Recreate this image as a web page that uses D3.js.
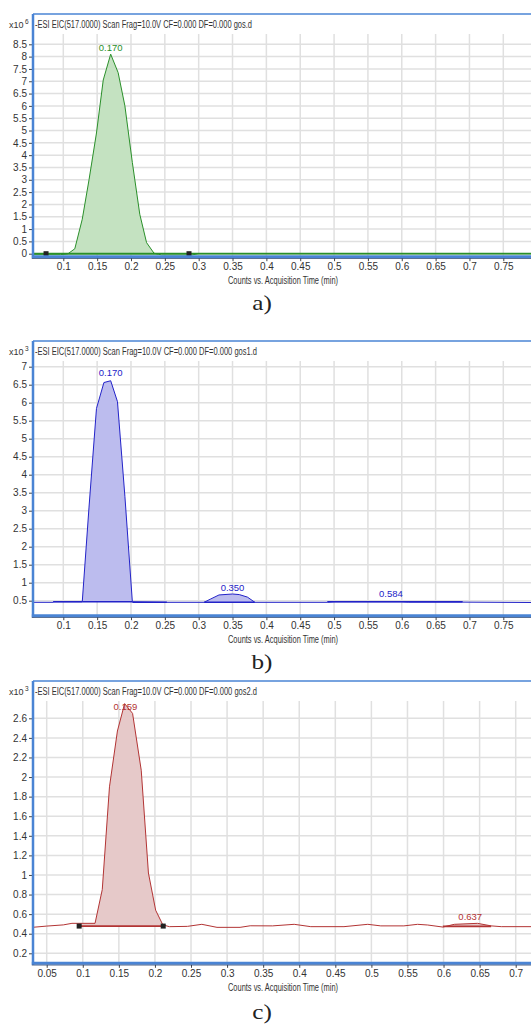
<!DOCTYPE html>
<html lang="en">
<head>
<meta charset="UTF-8">
<title>EIC 517 chromatograms</title>
<script src="https://d3js.org/d3.v7.min.js"></script>
<style>
  body { margin: 0; background: #fff; }
  svg text { font-family: "Liberation Sans Narrow", "Arial Narrow", "Liberation Sans", Arial, sans-serif; fill: #333; }
  .grid line { stroke: #e0e0e0; stroke-width: 1.5; }
  .axis text { font-size: 10px; fill: #333; }
  .axis line { stroke: #444; }
  .cap { font-family: "Liberation Serif", "Times New Roman", serif; fill: #222; }
</style>
</head>
<body>
<script>
// a) gos.d, counts x10^6
var timeA   = [0.055, 0.096, 0.107, 0.117, 0.128, 0.138, 0.149, 0.159, 0.170, 0.181, 0.191, 0.202, 0.213, 0.223, 0.234, 0.245, 0.290, 0.300, 0.792];
var countsA = [-0.04, -0.04, 0.00, 0.20, 1.40, 3.00, 4.90, 7.05, 8.10, 7.35, 6.00, 3.70, 1.60, 0.45, 0.02, -0.05, -0.05, 0.00, 0.00];
var peaksA  = [[0.100, 0.240, 0]];            // start, end, baseline
var marksA  = [[0.0745, 0], [0.2857, 0]];
var labelsA = [[0.170, 8.05, "0.170"]];

// b) gos1.d, counts x10^3
var timeB   = [0.055, 0.085, 0.086, 0.128, 0.138, 0.149, 0.160, 0.170, 0.180, 0.191, 0.202, 0.253, 0.308, 0.318, 0.330, 0.350, 0.360, 0.372, 0.383, 0.490, 0.500, 0.600, 0.610, 0.690, 0.792];
var countsB = [0.455, 0.455, 0.47, 0.47, 3.10, 5.84, 6.56, 6.61, 6.03, 3.40, 0.47, 0.455, 0.455, 0.55, 0.66, 0.686, 0.67, 0.60, 0.455, 0.455, 0.47, 0.47, 0.46, 0.46, 0.45];
var peaksB  = [[0.128, 0.202, 0.47], [0.308, 0.383, 0.455]];
var baseB   = [[0.085, 0.128, 0.47], [0.202, 0.253, 0.455], [0.490, 0.690, 0.47]];
var labelsB = [[0.170, 6.64, "0.170"], [0.350, 0.67, "0.350"], [0.584, 0.48, "0.584"]];

// c) gos2.d, counts x10^3
var timeC   = [0.030, 0.050, 0.073, 0.085, 0.117, 0.127, 0.137, 0.148, 0.158, 0.169, 0.181, 0.191, 0.201, 0.211, 0.220, 0.245, 0.265, 0.286, 0.318, 0.332, 0.363, 0.393, 0.416, 0.462, 0.495, 0.513, 0.545, 0.564, 0.578, 0.599, 0.615, 0.647, 0.666, 0.680, 0.722];
var countsC = [0.465, 0.478, 0.49, 0.506, 0.506, 0.85, 1.90, 2.47, 2.75, 2.65, 2.07, 1.02, 0.64, 0.49, 0.472, 0.475, 0.496, 0.465, 0.465, 0.481, 0.48, 0.496, 0.472, 0.472, 0.496, 0.48, 0.48, 0.496, 0.489, 0.468, 0.496, 0.506, 0.48, 0.472, 0.472];
var peaksC  = [[0.095, 0.2115, 0.478], [0.599, 0.666, 0.475]];
var marksC  = [[0.095, 0.478], [0.2115, 0.478]];
var labelsC = [[0.159, 2.64, "0.159"], [0.637, 0.504, "0.637"]];

// ticks
var xTicksAB = [0.1, 0.15, 0.2, 0.25, 0.3, 0.35, 0.4, 0.45, 0.5, 0.55, 0.6, 0.65, 0.7, 0.75];
var xTicksC  = [0.05, 0.1, 0.15, 0.2, 0.25, 0.3, 0.35, 0.4, 0.45, 0.5, 0.55, 0.6, 0.65, 0.7];
var yTicksA  = [0, 0.5, 1, 1.5, 2, 2.5, 3, 3.5, 4, 4.5, 5, 5.5, 6, 6.5, 7, 7.5, 8, 8.5];
var yTicksB  = [0.5, 1, 1.5, 2, 2.5, 3, 3.5, 4, 4.5, 5, 5.5, 6, 6.5, 7];
var yTicksC  = [0.2, 0.4, 0.6, 0.8, 1, 1.2, 1.4, 1.6, 1.8, 2, 2.2, 2.4, 2.6];

var width = 531, height = 1026, left = 33;
var svg = d3.select("body").append("svg").attr("width", width).attr("height", height);

var panels = [
  {name: "a", title: "-ESI EIC(517.0000) Scan Frag=10.0V CF=0.000 DF=0.000 gos.d", titleW: 217, exp: "6",
   time: timeA, counts: countsA, peaks: peaksA, base: [], marks: marksA, labels: labelsA,
   xTicks: xTicksAB, yTicks: yTicksA, color: "#2a8f2a", fill: "#c4e2c1",
   xDomain: [0.1, 0.75], xRange: [63.3, 503.3], yDomain: [0, 8.5], yRange: [253.7, 44.3],
   top: 14, bottom: 256.7, cap: "a)", capY: 309.5},
  {name: "b", title: "-ESI EIC(517.0000) Scan Frag=10.0V CF=0.000 DF=0.000 gos1.d", titleW: 222, exp: "3",
   time: timeB, counts: countsB, peaks: peaksB, base: baseB, marks: [], labels: labelsB,
   xTicks: xTicksAB, yTicks: yTicksB, color: "#2323c8", fill: "#bcbcee",
   xDomain: [0.1, 0.75], xRange: [63.3, 503.3], yDomain: [0.5, 7], yRange: [600.7, 366.7],
   top: 341, bottom: 615.7, cap: "b)", capY: 669},
  {name: "c", title: "-ESI EIC(517.0000) Scan Frag=10.0V CF=0.000 DF=0.000 gos2.d", titleW: 222, exp: "3",
   time: timeC, counts: countsC, peaks: peaksC, base: [], marks: marksC, labels: labelsC,
   xTicks: xTicksC, yTicks: yTicksC, color: "#b23434", fill: "#e6c9c9",
   xDomain: [0.05, 0.7], xRange: [46.7, 515.7], yDomain: [0.2, 2.6], yRange: [953.3, 718.3],
   top: 681, bottom: 963.3, cap: "c)", capY: 1019}
];

panels.forEach(drawPanel);

function drawPanel(p) {
  var x = d3.scaleLinear().domain(p.xDomain).range(p.xRange);
  var y = d3.scaleLinear().domain(p.yDomain).range(p.yRange);
  var pts = p.time.map(function(t, i) { return [t, p.counts[i]]; });

  svg.append("clipPath").attr("id", "clip-" + p.name)
    .append("rect").attr("x", left).attr("y", p.top).attr("width", width - left).attr("height", p.bottom - p.top);
  var g = svg.append("g");
  var plot = g.append("g").attr("clip-path", "url(#clip-" + p.name + ")");

  // grid
  var grid = plot.append("g").attr("class", "grid");
  grid.selectAll(".gx").data(p.xTicks).join("line")
    .attr("x1", d => x(d)).attr("x2", d => x(d)).attr("y1", p.top + 20).attr("y2", p.bottom);
  grid.selectAll(".gy").data(p.yTicks).join("line")
    .attr("x1", left).attr("x2", width).attr("y1", d => y(d)).attr("y2", d => y(d));

  // filled peaks
  p.peaks.forEach(function(pk) {
    var seg = pts.filter(d => d[0] > pk[0] && d[0] < pk[1]);
    seg.unshift([pk[0], interp(pk[0])]);
    seg.push([pk[1], interp(pk[1])]);
    plot.append("path").datum(seg)
      .attr("fill", p.fill)
      .attr("d", d3.area().x(d => x(d[0])).y0(y(pk[2])).y1(d => y(Math.max(d[1], pk[2]))));
    plot.append("line")
      .attr("x1", x(pk[0])).attr("x2", x(pk[1])).attr("y1", y(pk[2])).attr("y2", y(pk[2]))
      .attr("stroke", p.color).attr("stroke-width", 1.6);
  });
  p.base.forEach(function(b) {
    plot.append("line")
      .attr("x1", x(b[0])).attr("x2", x(b[1])).attr("y1", y(b[2])).attr("y2", y(b[2]))
      .attr("stroke", p.color).attr("stroke-width", 1.6);
  });
  if (p.name === "a") {
    plot.append("line").attr("x1", left).attr("x2", width).attr("y1", y(0)).attr("y2", y(0))
      .attr("stroke", p.color).attr("stroke-width", 1.8);
  }

  // trace
  plot.append("path").datum(pts)
    .attr("fill", "none").attr("stroke", p.color).attr("stroke-width", 1)
    .attr("d", d3.line().x(d => x(d[0])).y(d => y(d[1])));

  // integration markers
  plot.selectAll(".mk").data(p.marks).join("rect")
    .attr("x", d => x(d[0]) - 2.5).attr("y", d => y(d[1]) - 2.5)
    .attr("width", 5).attr("height", 5).attr("fill", "#222");

  // peak labels
  g.selectAll(".lbl").data(p.labels).join("text")
    .attr("x", d => x(d[0])).attr("y", d => y(d[1]) - 4)
    .attr("text-anchor", "middle").style("font-size", "9.5px").style("fill", p.color)
    .text(d => d[2]);

  // axes
  var xAxis = g.append("g").attr("class", "axis")
    .attr("transform", "translate(0," + (p.bottom + 1.5) + ")")
    .call(d3.axisBottom(x).tickValues(p.xTicks).tickSize(3).tickPadding(2).tickFormat(d => String(d)));
  xAxis.select(".domain").remove();
  xAxis.selectAll(".tick").filter(d => x(d) < left || x(d) > width).remove();

  var yAxis = g.append("g").attr("class", "axis")
    .attr("transform", "translate(" + (left - 1) + ",0)")
    .call(d3.axisLeft(y).tickValues(p.yTicks).tickSize(3).tickPadding(2).tickFormat(d => String(d)));
  yAxis.select(".domain").remove();

  // frame
  g.append("line").attr("x1", left).attr("x2", width).attr("y1", p.top).attr("y2", p.top)
    .attr("stroke", "#4a84d4").attr("stroke-width", 1.5);
  g.append("line").attr("x1", left).attr("x2", left).attr("y1", p.top).attr("y2", p.bottom + 1.5)
    .attr("stroke", "#4a84d4").attr("stroke-width", 2.5);
  g.append("line").attr("x1", left - 1.2).attr("x2", width).attr("y1", p.bottom).attr("y2", p.bottom)
    .attr("stroke", "#4a84d4").attr("stroke-width", 3);
  g.append("line").attr("x1", left - 1.2).attr("x2", width).attr("y1", p.bottom + 1.8).attr("y2", p.bottom + 1.8)
    .attr("stroke", "#28406a").attr("stroke-width", 0.7);

  // titles
  g.append("text").attr("x", 35).attr("y", p.top + 14).style("font-size", "10px")
    .attr("textLength", p.titleW).attr("lengthAdjust", "spacingAndGlyphs").text(p.title);
  var ex = g.append("text").attr("x", 9).attr("y", p.top + 14).style("font-size", "9px").text("x10");
  ex.append("tspan").attr("dx", 1.5).attr("dy", -4).style("font-size", "6.5px").text(p.exp);
  g.append("text").attr("x", 283).attr("y", p.bottom + 27.5).attr("text-anchor", "middle")
    .style("font-size", "10px").attr("textLength", 110).attr("lengthAdjust", "spacingAndGlyphs")
    .text("Counts vs. Acquisition Time (min)");
  g.append("text").attr("class", "cap")
    .attr("transform", "translate(262," + p.capY + ") scale(1.2,1)")
    .attr("text-anchor", "middle").style("font-size", "21px").text(p.cap);

  function interp(t) {
    for (var i = 1; i < pts.length; i++) {
      if (pts[i][0] >= t) {
        var a = pts[i - 1], b = pts[i];
        return a[1] + (b[1] - a[1]) * (t - a[0]) / (b[0] - a[0]);
      }
    }
    return pts[pts.length - 1][1];
  }
}
</script>
</body>
</html>
